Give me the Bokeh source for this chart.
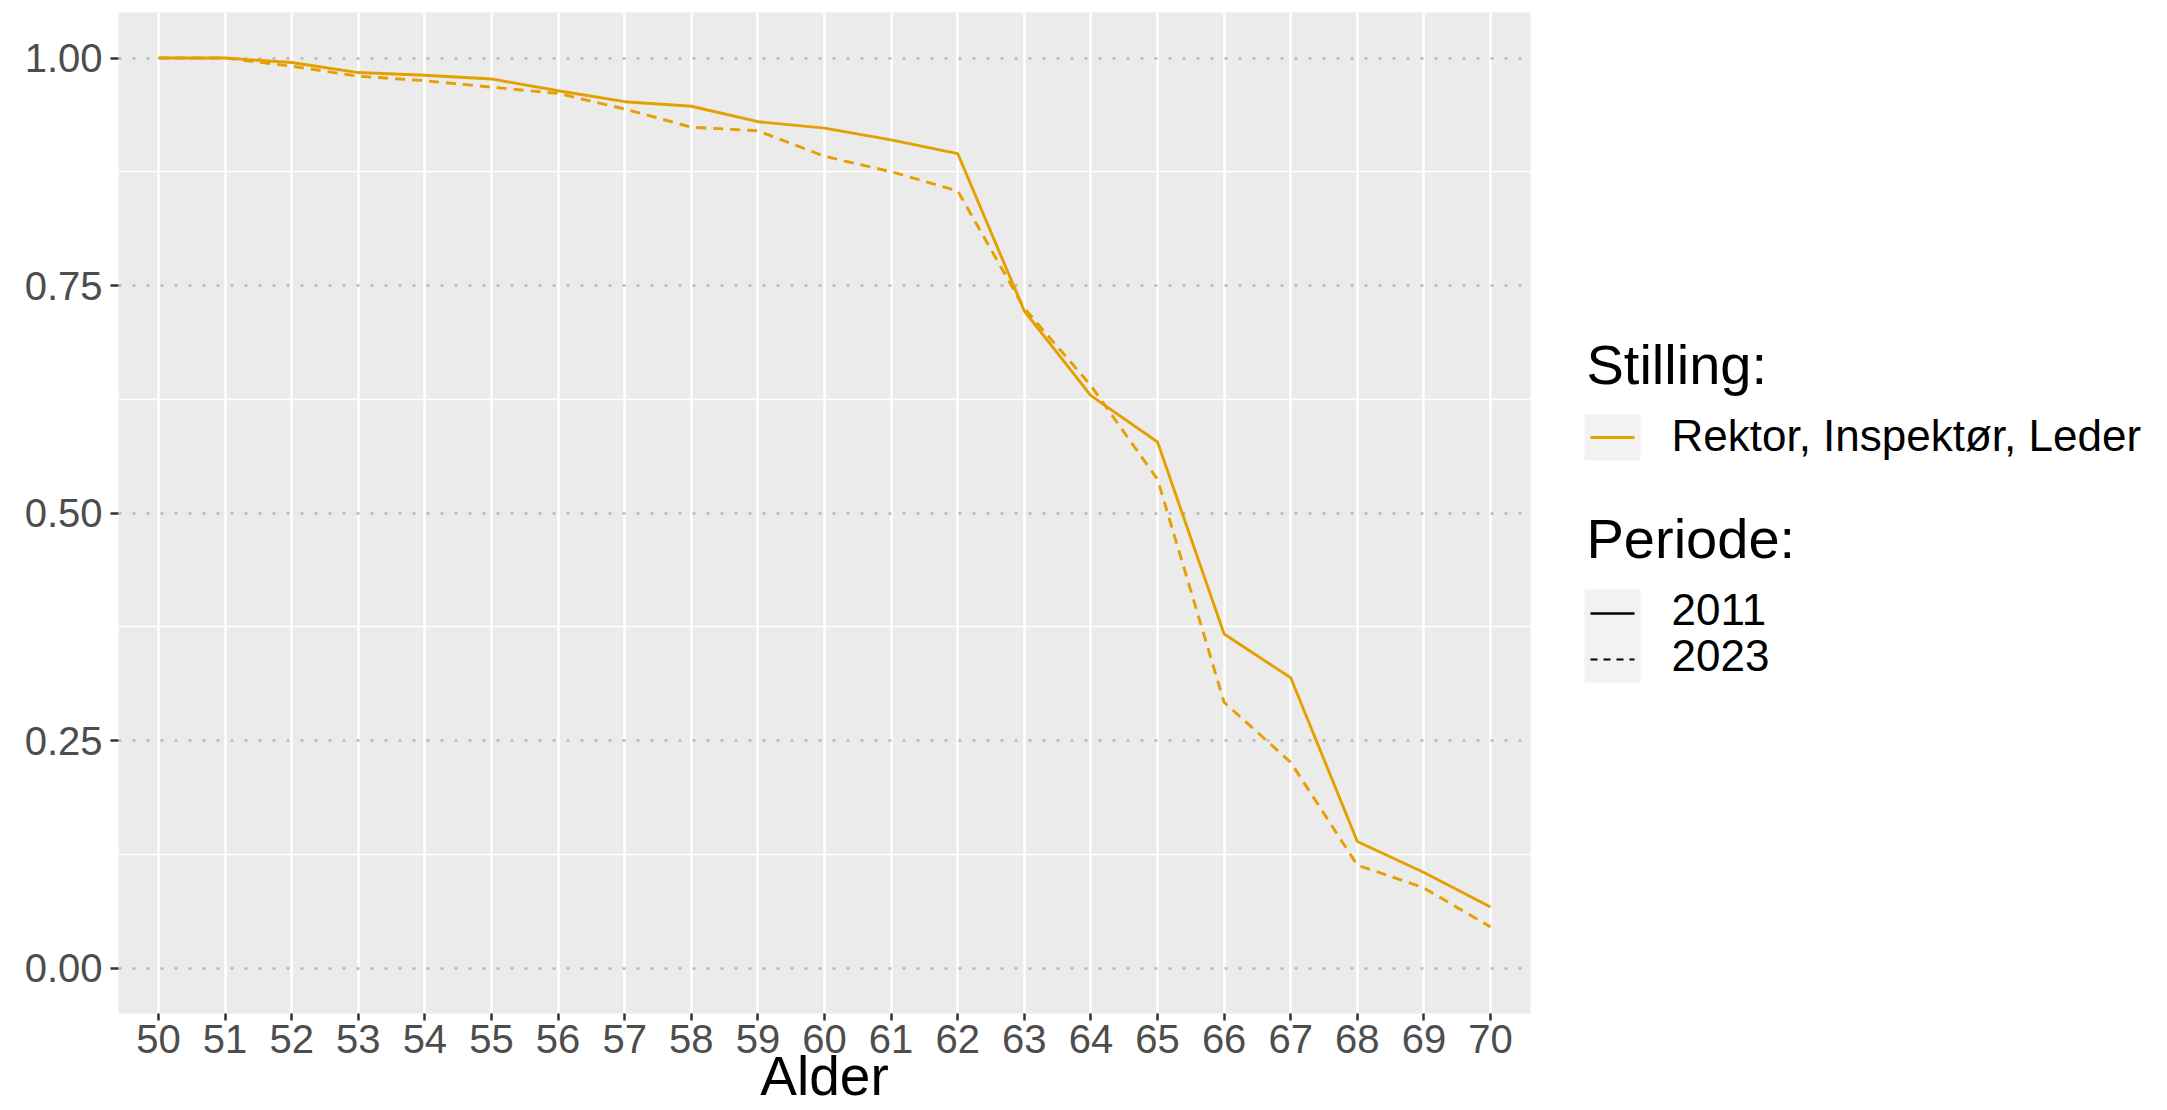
from bokeh.plotting import figure
from bokeh.models import Range1d, FixedTicker, PrintfTickFormatter
from bokeh.layouts import row
from bokeh.embed import file_html
from bokeh.resources import INLINE
from bokeh.core.properties import value

# ---- data ----
ages = list(range(50, 71))
andel_2011 = [1.000, 1.000, 0.995, 0.984, 0.981, 0.977, 0.964, 0.952, 0.947, 0.930,
              0.923, 0.910, 0.895, 0.722, 0.629, 0.578, 0.367, 0.319, 0.139, 0.105, 0.067]
andel_2023 = [1.000, 1.000, 0.991, 0.980, 0.975, 0.968, 0.961, 0.944, 0.924, 0.920,
              0.892, 0.875, 0.854, 0.725, 0.640, 0.537, 0.292, 0.226, 0.113, 0.088, 0.045]
periods = ["2011", "2023"]
stilling = ["Rektor, Inspektør, Leder"]
legend_titles = ["Stilling:", "Periode:"]
y_ticks = [0.0, 0.25, 0.5, 0.75, 1.0]
y_minor = [0.125, 0.375, 0.625, 0.875]
x_title = "Alder"

ORANGE = "#E69F00"
FONT = "Liberation Sans"

# ---- layout constants (page pixels) ----
PAGE_W, PAGE_H = 2167, 1110
B_LEFT, B_RIGHT, B_TOP = 118, 18, 12
FRAME_W, FRAME_H = 1412, 1001
B_BOTTOM = PAGE_H - B_TOP - FRAME_H
MAIN_W = B_LEFT + FRAME_W + B_RIGHT
FRAME_BOTTOM = B_TOP + FRAME_H
BASE_SHIFT = 0.39  # bokeh places "alphabetic" text this many em lower than expected

TITLE_PX, LABEL_PX, AXTITLE_PX = 56, 44, 55


def anchor(baseline, size):
    return baseline - BASE_SHIFT * size


# ---- main panel ----
p = figure(width=MAIN_W, height=PAGE_H, output_backend="svg", toolbar_location=None,
           x_range=Range1d(49.4, 70.6), y_range=Range1d(-0.05, 1.05),
           min_border_left=B_LEFT, min_border_right=B_RIGHT,
           min_border_top=B_TOP, min_border_bottom=B_BOTTOM)
p.background_fill_color = "#EBEBEB"
p.border_fill_color = "white"
p.outline_line_color = None

p.line(ages, andel_2011, line_color=ORANGE, line_width=2.9)
p.line(ages, andel_2023, line_color=ORANGE, line_width=2.9, line_dash="10 7")

xt = FixedTicker(ticks=ages)
yt = FixedTicker(ticks=y_ticks, minor_ticks=y_minor)
p.xaxis.ticker = xt
p.yaxis.ticker = yt
p.xgrid.ticker = xt
p.ygrid.ticker = yt
p.yaxis.formatter = PrintfTickFormatter(format="%.2f")

p.xgrid.grid_line_color = "white"
p.xgrid.grid_line_width = 2.5
p.ygrid.grid_line_color = "#B8B8B8"
p.ygrid.grid_line_width = 2.6
p.ygrid.grid_line_dash = "3 11"
p.ygrid.minor_grid_line_color = "white"
p.ygrid.minor_grid_line_width = 1.6

for ax in p.axis:
    ax.axis_line_color = None
    ax.major_tick_line_color = "#333333"
    ax.major_tick_line_width = 2.5
    ax.major_tick_in = 0
    ax.minor_tick_line_color = None
    ax.major_label_text_font = FONT
    ax.major_label_text_font_size = "40px"
    ax.major_label_text_color = "#4D4D4D"
p.xaxis.major_tick_out = 7
p.xaxis.major_label_standoff = 4
p.yaxis.major_tick_out = 8
p.yaxis.major_label_standoff = 8

p.xaxis.axis_label = x_title
p.xaxis.axis_label_text_font = FONT
p.xaxis.axis_label_text_font_size = f"{AXTITLE_PX}px"
p.xaxis.axis_label_text_font_style = "normal"
p.xaxis.axis_label_text_color = "black"
p.xaxis.axis_label_standoff = -11

# ---- legend panel (coordinates in page pixels) ----
LEG_X0 = MAIN_W
LW = PAGE_W - MAIN_W
lg = figure(width=LW, height=PAGE_H, output_backend="svg", toolbar_location=None,
            x_range=Range1d(LEG_X0, PAGE_W), y_range=Range1d(FRAME_BOTTOM, B_TOP),
            x_axis_type=None, y_axis_type=None,
            min_border_left=0, min_border_right=0,
            min_border_top=B_TOP, min_border_bottom=B_BOTTOM)
lg.grid.visible = False
lg.outline_line_color = None
lg.background_fill_color = "white"
lg.border_fill_color = "white"

lg.rect(x=[1612, 1612], y=[437, 635.5], width=[56, 56], height=[46, 93],
        fill_color="#F2F2F2", line_color=None)
lg.segment(x0=[1590], y0=[437], x1=[1634], y1=[437], line_color=ORANGE, line_width=2.9)
lg.segment(x0=[1590], y0=[613], x1=[1634], y1=[613], line_color="black", line_width=2.6)
lg.segment(x0=[1590], y0=[659], x1=[1634], y1=[659], line_color="black", line_width=2,
           line_dash="7 6")

lg.text(x=[1586, 1586], y=[anchor(386, TITLE_PX), anchor(560, TITLE_PX)],
        text=legend_titles, text_font=value(FONT),
        text_font_size=f"{TITLE_PX}px", text_color="black", text_baseline="alphabetic")
lg.text(x=[1671, 1671, 1671],
        y=[anchor(452, LABEL_PX), anchor(626, LABEL_PX), anchor(672, LABEL_PX)],
        text=stilling + periods,
        text_font=value(FONT), text_font_size=f"{LABEL_PX}px", text_color="black",
        text_baseline="alphabetic")

layout = row(p, lg)
open("out.html", "w").write(file_html(layout, INLINE))
